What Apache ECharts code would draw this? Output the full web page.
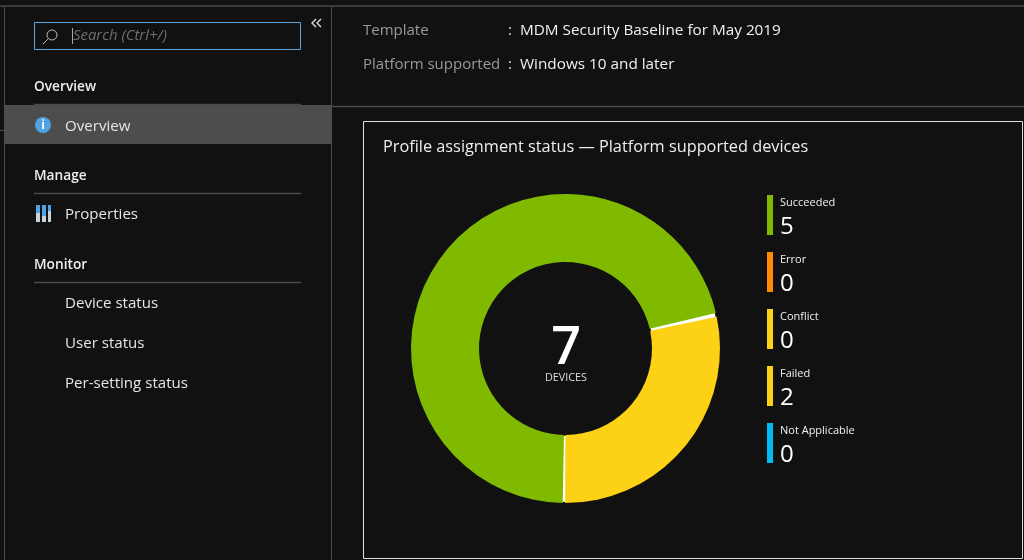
<!DOCTYPE html>
<html>
<head>
<meta charset="utf-8">
<title>Profile assignment status</title>
<style>
  html, body { margin: 0; padding: 0; background: #111; }
  #main { width: 1024px; height: 560px; }
</style>
</head>
<body>
<div id="main"></div>
<script src="https://cdn.jsdelivr.net/npm/echarts@6/dist/echarts.min.js"></script>
<script>
var categories = ['Succeeded', 'Error', 'Conflict', 'Failed', 'Not Applicable'];
var values = [5, 0, 0, 2, 0];
var colors = ['#7fba00', '#ff8c00', '#fcd116', '#fcd116', '#00bcf2'];
var centerLabel = 'DEVICES';
var chartTitle = 'Profile assignment status \u2014 Platform supported devices';
var navHeaders = ['Overview', 'Manage', 'Monitor'];
var navItems = ['Overview', 'Properties', 'Device status', 'User status', 'Per-setting status'];
var infoLabels = ['Template', 'Platform supported'];
var infoValues = ['MDM Security Baseline for May 2019', 'Windows 10 and later'];

var FONT = '"Open Sans", "Noto Sans", sans-serif';
var total = values.reduce(function (a, b) { return a + b; }, 0);

// 页面框架
function line(x1, y1, x2, y2, color, width) {
    return { type: 'line', silent: true, z: 1,
        shape: { x1: x1, y1: y1, x2: x2, y2: y2 },
        style: { stroke: color || '#444', lineWidth: width || 1 } };
}
function text(x, y, str, size, color, weight, extra) {
    var style = { x: x, y: y, text: str, fill: color || '#e6e6e6', fontFamily: FONT,
        fontSize: size, fontWeight: weight || 400, textVerticalAlign: 'middle' };
    for (var k in extra) style[k] = extra[k];
    return { type: 'text', silent: true, z: 3, style: style };
}

var navHeaderY = [87, 176, 265];
var navLineY = [104, 193, 282];
var navItemY = [126.5, 215, 304, 344, 384];

var shapes = [
    line(0, 6, 1024, 6, '#4a4a4a', 1.5),
    line(4.5, 6, 4.5, 560, '#4a4a4a', 1),
    line(331.5, 6, 331.5, 560, '#4a4a4a', 1),
    line(331, 106.5, 1024, 106.5, '#4a4a4a', 1.5),
    line(0, 130.5, 4, 130.5, '#4a4a4a', 1),
    { type: 'rect', silent: true, z: 1, shape: { x: 4, y: 105, width: 327, height: 39 }, style: { fill: '#4d4d4d' } },
    // 搜索框
    { type: 'rect', silent: true, z: 2, shape: { x: 34.5, y: 22.5, width: 266, height: 27 },
      style: { fill: 'none', stroke: '#5aa9e6', lineWidth: 1 } },
    line(72.5, 28, 72.5, 44, '#aaa', 1),
    { type: 'circle', silent: true, z: 2, shape: { cx: 52, cy: 35, r: 5 }, style: { fill: 'none', stroke: '#bbb', lineWidth: 1 } },
    line(48, 39, 43, 44, '#bbb', 1),
    text(73, 36, 'Search (Ctrl+/)', 14.9, '#6f6f6f', 400, { fontStyle: 'italic' }),
    { type: 'polyline', silent: true, z: 2, shape: { points: [[316, 19], [312, 23], [316, 27]] }, style: { fill: 'none', stroke: '#ddd', lineWidth: 1.4 } },
    { type: 'polyline', silent: true, z: 2, shape: { points: [[321, 19], [317, 23], [321, 27]] }, style: { fill: 'none', stroke: '#ddd', lineWidth: 1.4 } },
    // 信息图标
    { type: 'circle', silent: true, z: 2, shape: { cx: 43, cy: 125, r: 8 }, style: { fill: '#4fa3e3' } },
    text(43, 125.5, 'i', 12, '#fff', 700, { textAlign: 'center' }),
    // 属性图标
    { type: 'rect', silent: true, z: 2, shape: { x: 36, y: 205, width: 4, height: 17 }, style: { fill: '#c8d4dc' } },
    { type: 'rect', silent: true, z: 2, shape: { x: 42, y: 205, width: 4, height: 17 }, style: { fill: '#c8d4dc' } },
    { type: 'rect', silent: true, z: 2, shape: { x: 48, y: 205, width: 3, height: 17 }, style: { fill: '#c8d4dc' } },
    { type: 'rect', silent: true, z: 3, shape: { x: 36, y: 205, width: 4, height: 8 }, style: { fill: '#4fa3e3' } },
    { type: 'rect', silent: true, z: 3, shape: { x: 42, y: 205, width: 4, height: 11 }, style: { fill: '#4fa3e3' } },
    { type: 'rect', silent: true, z: 3, shape: { x: 48, y: 205, width: 3, height: 6 }, style: { fill: '#4fa3e3' } },
    // 图表外框
    { type: 'rect', silent: true, z: 1, shape: { x: 363.5, y: 121.5, width: 659, height: 437 },
      style: { fill: 'none', stroke: '#e0e0e0', lineWidth: 1 } }
];

navHeaders.forEach(function (h, i) {
    shapes.push(text(34, navHeaderY[i], h, 13.7, '#eee', 600));
    shapes.push(line(34, navLineY[i] + 0.5, 301, navLineY[i] + 0.5, '#4a4a4a', 1.5));
});
navItems.forEach(function (n, i) {
    shapes.push(text(65, navItemY[i], n, 15.1, '#e6e6e6'));
});
infoLabels.forEach(function (l, i) {
    var y = [31, 65][i];
    shapes.push(text(363, y, l, 15, '#9a9a9a'));
    shapes.push(text(508, y, ':', 15, '#ddd'));
    shapes.push(text(520, y, infoValues[i], 15.3, '#f0f0f0'));
});

// 环形图
var myChart = echarts.init(document.getElementById('main'), null, { renderer: 'canvas' });
var option = {
    backgroundColor: '#111',
    animation: false,
    title: [
        { text: chartTitle, left: 378, top: 134,
          textStyle: { color: '#eee', fontFamily: FONT, fontSize: 16.3, fontWeight: 400 } },
        { text: String(total), left: 561, top: 344, textAlign: 'center', textVerticalAlign: 'middle',
          textStyle: { color: '#fff', fontFamily: FONT, fontSize: 52, fontWeight: 600 } },
        { text: centerLabel, left: 561, top: 373, textAlign: 'center', textVerticalAlign: 'middle',
          textStyle: { color: '#ddd', fontFamily: FONT, fontSize: 10.8, fontWeight: 400 } }
    ],
    legend: {
        orient: 'vertical',
        left: 762,
        top: 190,
        icon: 'rect',
        itemWidth: 6,
        itemHeight: 40,
        itemGap: 13,
        selectedMode: false,
        data: categories,
        formatter: function (name) {
            return '{n|' + name + '}\n{v|' + values[categories.indexOf(name)] + '}';
        },
        textStyle: {
            color: '#fff',
            fontFamily: FONT,
            rich: {
                n: { fontSize: 11, lineHeight: 24, color: '#f0f0f0', fontFamily: FONT, padding: [0, 0, 0, 2] },
                v: { fontSize: 24, lineHeight: 25, color: '#fff', fontFamily: FONT, fontWeight: 500, padding: [0, 0, 0, 2] }
            }
        }
    },
    series: [
        {
            // 底层白环，缝隙里露出来当分隔线
            type: 'pie',
            silent: true,
            radius: [87.5, 153.5],
            center: [565.5, 348.5],
            label: { show: false },
            labelLine: { show: false },
            itemStyle: { color: '#fff' },
            data: [{ value: total, name: 'separator' }],
            legendHoverLink: false,
            tooltip: { show: false },
            z: 1
        },
        {
            type: 'pie',
            radius: [86.5, 154.5],
            center: [565.5, 348.5],
            startAngle: -90.8,
            padAngle: 0.45,
            label: { show: false },
            labelLine: { show: false },
            data: categories.map(function (c, i) {
                return { name: c, value: values[i], itemStyle: { color: colors[i] } };
            }),
            z: 2
        }
    ],
    graphic: { elements: shapes }
};
myChart.setOption(option);
</script>
</body>
</html>
